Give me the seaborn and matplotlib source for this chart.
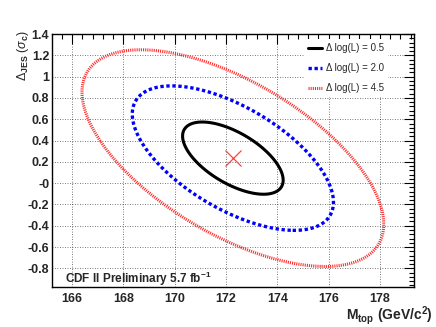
import numpy as np
import seaborn as sns
import matplotlib.pyplot as plt
from matplotlib.lines import Line2D
from matplotlib.ticker import FixedLocator, MultipleLocator

# fit result
mtop_center = 172.27
jes_center = 0.235
mtop_sigma = 1.96
jes_sigma = 0.339
rho = -0.61

levels = [0.5, 2.0, 4.5]
level_labels = ["\u0394 log(L) = 0.5", "\u0394 log(L) = 2.0", "\u0394 log(L) = 4.5"]
level_colors = ["black", "#0000ff", "#ff2a2a"]

x_ticks = [166, 168, 170, 172, 174, 176, 178]
y_ticks = [1.4, 1.2, 1.0, 0.8, 0.6, 0.4, 0.2, 0.0, -0.2, -0.4, -0.6, -0.8]
y_tick_labels = ["1.4", "1.2", "1", "0.8", "0.6", "0.4", "0.2", "-0", "-0.2", "-0.4", "-0.6", "-0.8"]

sns.set_theme(style="white")
plt.rcParams["font.family"] = ["Liberation Sans", "DejaVu Sans"]
plt.rcParams["mathtext.fontset"] = "custom"
plt.rcParams["mathtext.rm"] = "Liberation Sans"
plt.rcParams["mathtext.it"] = "Liberation Sans:italic"
plt.rcParams["mathtext.bf"] = "Liberation Sans:bold"

fig = plt.figure(figsize=(4.36, 3.27), dpi=100)
ax = fig.add_axes([52 / 436, 1 - 287 / 327, 362 / 436, 253.5 / 327])

# parabolic -log(L) surface around the minimum
mx = np.linspace(164, 181, 600)
my = np.linspace(-1.5, 2.0, 600)
X, Y = np.meshgrid(mx, my)
dx = (X - mtop_center) / mtop_sigma
dy = (Y - jes_center) / jes_sigma
nll = 0.5 * (dx**2 - 2 * rho * dx * dy + dy**2) / (1 - rho**2)

styles = ["-", (0, (1.0, 0.8)), (0, (0.35, 0.35))]
widths = [2.2, 2.4, 2.2]
for lev, col, ls, lw in zip(levels, level_colors, styles, widths):
    cs = ax.contour(X, Y, nll, levels=[lev], colors=col, linewidths=lw)
    cs.set_linestyle(ls)

ax.plot(mtop_center, jes_center, marker="x", ms=12, mew=0.9, color="#ff4040", ls="none")

ax.set_xlim(165.22, 179.33)
ax.set_ylim(-0.975, 1.405)
ax.xaxis.set_major_locator(FixedLocator(x_ticks))
ax.xaxis.set_minor_locator(MultipleLocator(0.4))
ax.yaxis.set_major_locator(FixedLocator(y_ticks))
ax.set_yticklabels(y_tick_labels)
ax.yaxis.set_minor_locator(MultipleLocator(0.04))
ax.tick_params(which="both", direction="in", top=True, right=True, width=0.8, color="black")
ax.tick_params(which="major", length=7, labelsize=9)
ax.tick_params(axis="y", which="major", pad=2)
ax.tick_params(axis="x", which="major", pad=4)
ax.tick_params(which="minor", length=3.5)
for lab in ax.get_xticklabels() + ax.get_yticklabels():
    lab.set_fontweight("bold")
for sp in ax.spines.values():
    sp.set_color("black")
    sp.set_linewidth(1.0)
ax.grid(which="major", color="black", linestyle=(0, (1, 2)), linewidth=0.6, alpha=0.7)

handles = [Line2D([], [], color=c, lw=w, ls=s) for c, w, s in zip(level_colors, widths, styles)]
leg = ax.legend(handles, level_labels, loc="upper left", bbox_to_anchor=(0.696, 0.978),
                frameon=True, fontsize=7, handlelength=1.5, labelspacing=1.05,
                borderaxespad=0, handletextpad=0.4)
leg.get_frame().set_facecolor("white")
leg.get_frame().set_edgecolor("none")
leg.get_frame().set_alpha(1)

ax.text(0.035, 0.0146, r"CDF II Preliminary 5.7 fb$^{\mathbf{-1}}$", transform=ax.transAxes,
        fontsize=8.5, fontweight="bold", va="baseline", ha="left")

fig.text(433 / 436, 1 - 316 / 327, r"M$_{\mathbf{top}}$ (GeV/c$^{\mathbf{2}}$)",
         ha="right", va="center", fontsize=10, fontweight="bold")
fig.text(23 / 436, 1 - 55 / 327, r"$\Delta_{\mathbf{JES}}$ ($\sigma_{\mathbf{c}}$)",
         rotation=90, ha="center", va="center", fontsize=9)

fig.savefig("out.png", dpi=100)
